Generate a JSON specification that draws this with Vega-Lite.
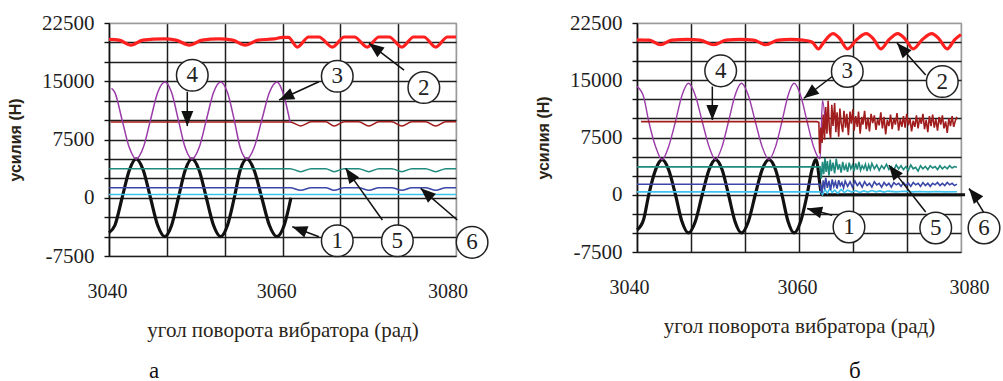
{
  "$schema": "https://vega.github.io/schema/vega-lite/v6.json",
  "background": "white",
  "padding": {"left": 6, "top": 11, "right": 0, "bottom": 0},
  "bounds": "flush",
  "spacing": 181,
  "datasets": {
    "la": [
      {"s":"c","x":3040,"y":420},{"s":"c","x":3081,"y":420},
      {"s":"6","x":3040,"y":1300},{"s":"6","x":3061.4,"y":1300},{"s":"6","x":3062.65,"y":950},{"s":"6","x":3063.9,"y":1300},{"s":"6","x":3065.6,"y":1300},{"s":"6","x":3066.6,"y":950},{"s":"6","x":3067.8,"y":1300},{"s":"6","x":3069.5,"y":1300},{"s":"6","x":3070.7,"y":950},{"s":"6","x":3071.9,"y":1300},{"s":"6","x":3073.4,"y":1300},{"s":"6","x":3074.6,"y":950},{"s":"6","x":3075.8,"y":1300},{"s":"6","x":3077.4,"y":1300},{"s":"6","x":3078.6,"y":950},{"s":"6","x":3079.8,"y":1300},{"s":"6","x":3081,"y":1300},
      {"s":"5","x":3040,"y":3750},{"s":"5","x":3061.4,"y":3750},{"s":"5","x":3062.65,"y":3350},{"s":"5","x":3063.9,"y":3750},{"s":"5","x":3065.6,"y":3750},{"s":"5","x":3066.6,"y":3350},{"s":"5","x":3067.8,"y":3750},{"s":"5","x":3069.5,"y":3750},{"s":"5","x":3070.7,"y":3350},{"s":"5","x":3071.9,"y":3750},{"s":"5","x":3073.4,"y":3750},{"s":"5","x":3074.6,"y":3350},{"s":"5","x":3075.8,"y":3750},{"s":"5","x":3077.4,"y":3750},{"s":"5","x":3078.6,"y":3350},{"s":"5","x":3079.8,"y":3750},{"s":"5","x":3081,"y":3750},
      {"s":"4","x":3040.2,"y":9750},{"s":"4","x":3061.4,"y":9750},{"s":"4","x":3062.65,"y":9250},{"s":"4","x":3063.9,"y":9780},{"s":"4","x":3065.6,"y":9780},{"s":"4","x":3066.6,"y":9250},{"s":"4","x":3067.8,"y":9780},{"s":"4","x":3069.5,"y":9780},{"s":"4","x":3070.7,"y":9250},{"s":"4","x":3071.9,"y":9780},{"s":"4","x":3073.4,"y":9780},{"s":"4","x":3074.6,"y":9250},{"s":"4","x":3075.8,"y":9780},{"s":"4","x":3077.4,"y":9780},{"s":"4","x":3078.6,"y":9250},{"s":"4","x":3079.8,"y":9780},{"s":"4","x":3081,"y":9780},
      {"s":"3","x":3040.3,"y":14100},{"s":"3","x":3040.7,"y":13540},{"s":"3","x":3041.55,"y":10000},{"s":"3","x":3042.4,"y":6460},{"s":"3","x":3043.2,"y":5000},{"s":"3","x":3044.05,"y":6460},{"s":"3","x":3044.9,"y":10000},{"s":"3","x":3045.75,"y":13540},{"s":"3","x":3046.6,"y":14900},{"s":"3","x":3047.4,"y":13540},{"s":"3","x":3048.2,"y":10000},{"s":"3","x":3049.0,"y":6460},{"s":"3","x":3049.8,"y":5000},{"s":"3","x":3050.65,"y":6460},{"s":"3","x":3051.5,"y":10000},{"s":"3","x":3052.35,"y":13540},{"s":"3","x":3053.2,"y":14900},{"s":"3","x":3054.0,"y":13540},{"s":"3","x":3054.8,"y":10000},{"s":"3","x":3055.5,"y":6460},{"s":"3","x":3056.3,"y":5000},{"s":"3","x":3057.15,"y":6460},{"s":"3","x":3058.05,"y":10000},{"s":"3","x":3058.95,"y":13540},{"s":"3","x":3059.85,"y":14900},{"s":"3","x":3060.7,"y":13000},{"s":"3","x":3061.4,"y":9700},
      {"s":"2","x":3040,"y":20400},{"s":"2","x":3041.2,"y":20300},{"s":"2","x":3042.6,"y":19650},{"s":"2","x":3044.0,"y":20300},{"s":"2","x":3046.5,"y":20450},{"s":"2","x":3047.9,"y":20300},{"s":"2","x":3049.5,"y":19650},{"s":"2","x":3051.0,"y":20300},{"s":"2","x":3053.0,"y":20450},{"s":"2","x":3054.6,"y":20300},{"s":"2","x":3056.1,"y":19650},{"s":"2","x":3057.6,"y":20300},{"s":"2","x":3059.5,"y":20450},{"s":"2","x":3060.5,"y":20650},{"s":"2","x":3061.2,"y":20650},{"s":"2","x":3062.25,"y":19400},{"s":"2","x":3063.6,"y":20700},{"s":"2","x":3064.8,"y":20700},{"s":"2","x":3066.4,"y":19400},{"s":"2","x":3067.8,"y":20700},{"s":"2","x":3069.0,"y":20700},{"s":"2","x":3070.5,"y":19400},{"s":"2","x":3071.9,"y":20700},{"s":"2","x":3073.1,"y":20700},{"s":"2","x":3074.6,"y":19400},{"s":"2","x":3076.0,"y":20700},{"s":"2","x":3077.2,"y":20700},{"s":"2","x":3078.6,"y":19400},{"s":"2","x":3080.0,"y":20700},{"s":"2","x":3081,"y":20700},
      {"s":"1","x":3040,"y":-4500},{"s":"1","x":3040.7,"y":-3540},{"s":"1","x":3041.55,"y":0},{"s":"1","x":3042.4,"y":3540},{"s":"1","x":3043.2,"y":5000},{"s":"1","x":3044.05,"y":3540},{"s":"1","x":3044.9,"y":0},{"s":"1","x":3045.75,"y":-3540},{"s":"1","x":3046.6,"y":-5000},{"s":"1","x":3047.4,"y":-3540},{"s":"1","x":3048.2,"y":0},{"s":"1","x":3049.0,"y":3540},{"s":"1","x":3049.8,"y":5000},{"s":"1","x":3050.65,"y":3540},{"s":"1","x":3051.5,"y":0},{"s":"1","x":3052.35,"y":-3540},{"s":"1","x":3053.2,"y":-5000},{"s":"1","x":3054.0,"y":-3540},{"s":"1","x":3054.8,"y":0},{"s":"1","x":3055.5,"y":3540},{"s":"1","x":3056.3,"y":5000},{"s":"1","x":3057.15,"y":3540},{"s":"1","x":3058.05,"y":0},{"s":"1","x":3058.95,"y":-3540},{"s":"1","x":3059.85,"y":-5000},{"s":"1","x":3060.7,"y":-3540},{"s":"1","x":3061.5,"y":0}
    ],
    "lb": [
      {"s":"c","x":3040,"y":380},{"s":"c","x":3062.7,"y":380},{"s":"c","x":3062.9,"y":0},{"s":"c","x":3063.2,"y":700},{"s":"c","x":3063.5,"y":200},{"s":"c","x":3063.8,"y":800},{"s":"c","x":3064.1,"y":300},{"s":"c","x":3064.4,"y":600},{"s":"c","x":3064.8,"y":200},{"s":"c","x":3065.2,"y":700},{"s":"c","x":3065.6,"y":300},{"s":"c","x":3066.0,"y":600},{"s":"c","x":3066.5,"y":350},{"s":"c","x":3067.0,"y":550},{"s":"c","x":3067.5,"y":300},{"s":"c","x":3068.0,"y":500},{"s":"c","x":3068.5,"y":350},{"s":"c","x":3069.0,"y":550},{"s":"c","x":3069.5,"y":380},{"s":"c","x":3070.0,"y":500},{"s":"c","x":3070.5,"y":350},{"s":"c","x":3071.0,"y":480},{"s":"c","x":3072.0,"y":380},{"s":"c","x":3073.0,"y":450},{"s":"c","x":3074.0,"y":380},{"s":"c","x":3075.0,"y":430},{"s":"c","x":3076.0,"y":380},{"s":"c","x":3077.0,"y":420},{"s":"c","x":3078.0,"y":380},{"s":"c","x":3079.5,"y":400},
      {"s":"6","x":3040,"y":1380},{"s":"6","x":3062.6,"y":1380},{"s":"6","x":3062.8,"y":200},{"s":"6","x":3063.0,"y":1900},{"s":"6","x":3063.15,"y":700},{"s":"6","x":3063.3,"y":2200},{"s":"6","x":3063.5,"y":900},{"s":"6","x":3063.7,"y":1800},{"s":"6","x":3063.9,"y":600},{"s":"6","x":3064.1,"y":2000},{"s":"6","x":3064.3,"y":1100},{"s":"6","x":3064.5,"y":1700},{"s":"6","x":3064.7,"y":800},{"s":"6","x":3064.9,"y":1900},{"s":"6","x":3065.1,"y":1200},{"s":"6","x":3065.3,"y":1600},{"s":"6","x":3065.5,"y":900},{"s":"6","x":3065.7,"y":1800},{"s":"6","x":3066.0,"y":1100},{"s":"6","x":3066.3,"y":1700},{"s":"6","x":3066.6,"y":1000},{"s":"6","x":3066.9,"y":1800},{"s":"6","x":3067.2,"y":1200},{"s":"6","x":3067.5,"y":1600},{"s":"6","x":3067.8,"y":1000},{"s":"6","x":3068.1,"y":1700},{"s":"6","x":3068.4,"y":1200},{"s":"6","x":3068.7,"y":1500},{"s":"6","x":3069.0,"y":1000},{"s":"6","x":3069.3,"y":1700},{"s":"6","x":3069.6,"y":1300},{"s":"6","x":3069.9,"y":1500},{"s":"6","x":3070.2,"y":1000},{"s":"6","x":3070.5,"y":1600},{"s":"6","x":3070.8,"y":1200},{"s":"6","x":3071.1,"y":1500},{"s":"6","x":3071.4,"y":1000},{"s":"6","x":3071.7,"y":1600},{"s":"6","x":3072.0,"y":1300},{"s":"6","x":3072.3,"y":1500},{"s":"6","x":3072.6,"y":1100},{"s":"6","x":3072.9,"y":1600},{"s":"6","x":3073.2,"y":1200},{"s":"6","x":3073.5,"y":1500},{"s":"6","x":3073.8,"y":1100},{"s":"6","x":3074.1,"y":1600},{"s":"6","x":3074.4,"y":1300},{"s":"6","x":3074.7,"y":1500},{"s":"6","x":3075.0,"y":1100},{"s":"6","x":3075.3,"y":1600},{"s":"6","x":3075.6,"y":1200},{"s":"6","x":3075.9,"y":1500},{"s":"6","x":3076.2,"y":1100},{"s":"6","x":3076.5,"y":1500},{"s":"6","x":3076.8,"y":1300},{"s":"6","x":3077.1,"y":1600},{"s":"6","x":3077.4,"y":1200},{"s":"6","x":3077.7,"y":1500},{"s":"6","x":3078.0,"y":1200},{"s":"6","x":3078.3,"y":1600},{"s":"6","x":3078.6,"y":1300},{"s":"6","x":3078.9,"y":1500},{"s":"6","x":3079.2,"y":1200},{"s":"6","x":3079.5,"y":1400},
      {"s":"5","x":3040,"y":3650},{"s":"5","x":3062.6,"y":3650},{"s":"5","x":3062.75,"y":2100},{"s":"5","x":3062.9,"y":4300},{"s":"5","x":3063.05,"y":2700},{"s":"5","x":3063.2,"y":4800},{"s":"5","x":3063.35,"y":3000},{"s":"5","x":3063.5,"y":4400},{"s":"5","x":3063.7,"y":2500},{"s":"5","x":3063.85,"y":4600},{"s":"5","x":3064.0,"y":3100},{"s":"5","x":3064.2,"y":4200},{"s":"5","x":3064.4,"y":2800},{"s":"5","x":3064.6,"y":4700},{"s":"5","x":3064.8,"y":3300},{"s":"5","x":3065.0,"y":4000},{"s":"5","x":3065.2,"y":2900},{"s":"5","x":3065.4,"y":4300},{"s":"5","x":3065.6,"y":3200},{"s":"5","x":3065.8,"y":3900},{"s":"5","x":3066.0,"y":3000},{"s":"5","x":3066.2,"y":4200},{"s":"5","x":3066.4,"y":3400},{"s":"5","x":3066.6,"y":3900},{"s":"5","x":3066.8,"y":3100},{"s":"5","x":3067.0,"y":4100},{"s":"5","x":3067.2,"y":3300},{"s":"5","x":3067.4,"y":4300},{"s":"5","x":3067.6,"y":3200},{"s":"5","x":3067.8,"y":3800},{"s":"5","x":3068.0,"y":3400},{"s":"5","x":3068.2,"y":4000},{"s":"5","x":3068.4,"y":3100},{"s":"5","x":3068.6,"y":3900},{"s":"5","x":3068.8,"y":3300},{"s":"5","x":3069.0,"y":4100},{"s":"5","x":3069.3,"y":3400},{"s":"5","x":3069.6,"y":3900},{"s":"5","x":3069.9,"y":3200},{"s":"5","x":3070.2,"y":3800},{"s":"5","x":3070.5,"y":3400},{"s":"5","x":3070.8,"y":4000},{"s":"5","x":3071.1,"y":3300},{"s":"5","x":3071.4,"y":3700},{"s":"5","x":3071.7,"y":3200},{"s":"5","x":3072.0,"y":3900},{"s":"5","x":3072.3,"y":3400},{"s":"5","x":3072.6,"y":3800},{"s":"5","x":3072.9,"y":3300},{"s":"5","x":3073.2,"y":3700},{"s":"5","x":3073.5,"y":3200},{"s":"5","x":3073.8,"y":3900},{"s":"5","x":3074.1,"y":3400},{"s":"5","x":3074.4,"y":3600},{"s":"5","x":3074.7,"y":3100},{"s":"5","x":3075.0,"y":3800},{"s":"5","x":3075.3,"y":3400},{"s":"5","x":3075.6,"y":3700},{"s":"5","x":3075.9,"y":3300},{"s":"5","x":3076.2,"y":3800},{"s":"5","x":3076.5,"y":3500},{"s":"5","x":3076.8,"y":3700},{"s":"5","x":3077.1,"y":3300},{"s":"5","x":3077.4,"y":3800},{"s":"5","x":3077.7,"y":3400},{"s":"5","x":3078.0,"y":3700},{"s":"5","x":3078.3,"y":3400},{"s":"5","x":3078.6,"y":3800},{"s":"5","x":3078.9,"y":3500},{"s":"5","x":3079.2,"y":3700},{"s":"5","x":3079.5,"y":3600},
      {"s":"4","x":3040.5,"y":9580},{"s":"4","x":3062.2,"y":9580},{"s":"4","x":3062.45,"y":9500},{"s":"4","x":3062.55,"y":5400},{"s":"4","x":3062.7,"y":8800},{"s":"4","x":3062.85,"y":6800},{"s":"4","x":3063.0,"y":10500},{"s":"4","x":3063.15,"y":7200},{"s":"4","x":3063.3,"y":11500},{"s":"4","x":3063.45,"y":8000},{"s":"4","x":3063.6,"y":12300},{"s":"4","x":3063.75,"y":8600},{"s":"4","x":3063.9,"y":7400},{"s":"4","x":3064.05,"y":11800},{"s":"4","x":3064.2,"y":9000},{"s":"4","x":3064.4,"y":12000},{"s":"4","x":3064.55,"y":8200},{"s":"4","x":3064.7,"y":10800},{"s":"4","x":3064.9,"y":7600},{"s":"4","x":3065.05,"y":11300},{"s":"4","x":3065.2,"y":9400},{"s":"4","x":3065.4,"y":8200},{"s":"4","x":3065.55,"y":11000},{"s":"4","x":3065.75,"y":8800},{"s":"4","x":3065.9,"y":10600},{"s":"4","x":3066.1,"y":7800},{"s":"4","x":3066.3,"y":10900},{"s":"4","x":3066.45,"y":9300},{"s":"4","x":3066.65,"y":11200},{"s":"4","x":3066.8,"y":8400},{"s":"4","x":3067.0,"y":10300},{"s":"4","x":3067.2,"y":8900},{"s":"4","x":3067.35,"y":10900},{"s":"4","x":3067.55,"y":8000},{"s":"4","x":3067.75,"y":10200},{"s":"4","x":3067.9,"y":9200},{"s":"4","x":3068.1,"y":11000},{"s":"4","x":3068.3,"y":8600},{"s":"4","x":3068.5,"y":10100},{"s":"4","x":3068.7,"y":8300},{"s":"4","x":3068.9,"y":10600},{"s":"4","x":3069.1,"y":9400},{"s":"4","x":3069.3,"y":10400},{"s":"4","x":3069.5,"y":8500},{"s":"4","x":3069.7,"y":9900},{"s":"4","x":3069.9,"y":9100},{"s":"4","x":3070.1,"y":10800},{"s":"4","x":3070.3,"y":8700},{"s":"4","x":3070.5,"y":10200},{"s":"4","x":3070.7,"y":7900},{"s":"4","x":3070.9,"y":9800},{"s":"4","x":3071.1,"y":9000},{"s":"4","x":3071.3,"y":10500},{"s":"4","x":3071.5,"y":8600},{"s":"4","x":3071.7,"y":10000},{"s":"4","x":3071.9,"y":9200},{"s":"4","x":3072.1,"y":10700},{"s":"4","x":3072.3,"y":8400},{"s":"4","x":3072.5,"y":9900},{"s":"4","x":3072.7,"y":8900},{"s":"4","x":3072.9,"y":10300},{"s":"4","x":3073.1,"y":8800},{"s":"4","x":3073.3,"y":10600},{"s":"4","x":3073.5,"y":9100},{"s":"4","x":3073.7,"y":10000},{"s":"4","x":3073.9,"y":8300},{"s":"4","x":3074.1,"y":9700},{"s":"4","x":3074.3,"y":8900},{"s":"4","x":3074.5,"y":10400},{"s":"4","x":3074.7,"y":8700},{"s":"4","x":3074.9,"y":10100},{"s":"4","x":3075.1,"y":9300},{"s":"4","x":3075.3,"y":10600},{"s":"4","x":3075.5,"y":8600},{"s":"4","x":3075.7,"y":9800},{"s":"4","x":3075.9,"y":8200},{"s":"4","x":3076.1,"y":10300},{"s":"4","x":3076.3,"y":9000},{"s":"4","x":3076.5,"y":10500},{"s":"4","x":3076.7,"y":8800},{"s":"4","x":3076.9,"y":9900},{"s":"4","x":3077.1,"y":8400},{"s":"4","x":3077.3,"y":10200},{"s":"4","x":3077.5,"y":9200},{"s":"4","x":3077.7,"y":10400},{"s":"4","x":3077.9,"y":8700},{"s":"4","x":3078.1,"y":9600},{"s":"4","x":3078.3,"y":8100},{"s":"4","x":3078.5,"y":10000},{"s":"4","x":3078.7,"y":9000},{"s":"4","x":3078.9,"y":10300},{"s":"4","x":3079.1,"y":8900},{"s":"4","x":3079.3,"y":9700},{"s":"4","x":3079.5,"y":10200},
      {"s":"3","x":3040,"y":14200},{"s":"3","x":3040.8,"y":12900},{"s":"3","x":3041.45,"y":9600},{"s":"3","x":3042.3,"y":6300},{"s":"3","x":3043.1,"y":4600},{"s":"3","x":3043.9,"y":6300},{"s":"3","x":3044.75,"y":9600},{"s":"3","x":3045.55,"y":13000},{"s":"3","x":3046.35,"y":14600},{"s":"3","x":3047.2,"y":13000},{"s":"3","x":3048.05,"y":9600},{"s":"3","x":3048.9,"y":6300},{"s":"3","x":3049.7,"y":4600},{"s":"3","x":3050.5,"y":6300},{"s":"3","x":3051.3,"y":9600},{"s":"3","x":3052.1,"y":13000},{"s":"3","x":3052.9,"y":14600},{"s":"3","x":3053.75,"y":13000},{"s":"3","x":3054.6,"y":9600},{"s":"3","x":3055.45,"y":6300},{"s":"3","x":3056.3,"y":4600},{"s":"3","x":3057.1,"y":6300},{"s":"3","x":3057.9,"y":9600},{"s":"3","x":3058.65,"y":13000},{"s":"3","x":3059.4,"y":14600},{"s":"3","x":3060.2,"y":13000},{"s":"3","x":3061.0,"y":9600},{"s":"3","x":3061.8,"y":6300},{"s":"3","x":3062.6,"y":4700},{"s":"3","x":3062.9,"y":12400},{"s":"3","x":3063.3,"y":8600},
      {"s":"2","x":3040,"y":20300},{"s":"2","x":3041.5,"y":20250},{"s":"2","x":3042.9,"y":19650},{"s":"2","x":3044.3,"y":20250},{"s":"2","x":3046.2,"y":20350},{"s":"2","x":3047.8,"y":20250},{"s":"2","x":3049.5,"y":19650},{"s":"2","x":3051.0,"y":20250},{"s":"2","x":3052.8,"y":20350},{"s":"2","x":3054.4,"y":20250},{"s":"2","x":3055.9,"y":19650},{"s":"2","x":3057.4,"y":20250},{"s":"2","x":3059.0,"y":20350},{"s":"2","x":3060.5,"y":20250},{"s":"2","x":3061.6,"y":20000},{"s":"2","x":3062.4,"y":19100},{"s":"2","x":3063.0,"y":19900},{"s":"2","x":3064.2,"y":21100},{"s":"2","x":3065.0,"y":20500},{"s":"2","x":3066.0,"y":19100},{"s":"2","x":3067.1,"y":20300},{"s":"2","x":3068.3,"y":21100},{"s":"2","x":3069.2,"y":20400},{"s":"2","x":3070.1,"y":19100},{"s":"2","x":3071.1,"y":20300},{"s":"2","x":3072.2,"y":21100},{"s":"2","x":3073.1,"y":20400},{"s":"2","x":3074.1,"y":19100},{"s":"2","x":3075.2,"y":20300},{"s":"2","x":3076.4,"y":21100},{"s":"2","x":3077.3,"y":20400},{"s":"2","x":3078.3,"y":19100},{"s":"2","x":3079.2,"y":20300},{"s":"2","x":3080.0,"y":21000},
      {"s":"1","x":3040,"y":-4600},{"s":"1","x":3040.8,"y":-3300},{"s":"1","x":3041.45,"y":0},{"s":"1","x":3042.3,"y":3300},{"s":"1","x":3043.1,"y":4600},{"s":"1","x":3043.9,"y":3300},{"s":"1","x":3044.75,"y":0},{"s":"1","x":3045.55,"y":-3500},{"s":"1","x":3046.35,"y":-5000},{"s":"1","x":3047.2,"y":-3500},{"s":"1","x":3048.05,"y":0},{"s":"1","x":3048.9,"y":3300},{"s":"1","x":3049.7,"y":4600},{"s":"1","x":3050.5,"y":3300},{"s":"1","x":3051.3,"y":0},{"s":"1","x":3052.1,"y":-3500},{"s":"1","x":3052.9,"y":-5000},{"s":"1","x":3053.75,"y":-3500},{"s":"1","x":3054.6,"y":0},{"s":"1","x":3055.45,"y":3300},{"s":"1","x":3056.3,"y":4600},{"s":"1","x":3057.1,"y":3300},{"s":"1","x":3057.9,"y":0},{"s":"1","x":3058.65,"y":-3500},{"s":"1","x":3059.4,"y":-5000},{"s":"1","x":3060.2,"y":-3500},{"s":"1","x":3061.0,"y":0},{"s":"1","x":3061.6,"y":3300},{"s":"1","x":3062.1,"y":4600},{"s":"1","x":3062.85,"y":0},{"s":"1","x":3080.5,"y":0}
    ],
    "aa": [
      {"n":"4","x":3049.84,"y":15770,"ax":3049.25,"ay":13650,"tx":3049.25,"ty":9230,"ang":180},
      {"n":"3","x":3066.97,"y":15640,"ax":3064.8,"ay":14940,"tx":3060.1,"ty":12580,"ang":245},
      {"n":"2","x":3077.2,"y":14190,"ax":3074.86,"ay":16440,"tx":3070.72,"ty":19880,"ang":307},
      {"n":"1","x":3066.97,"y":-5540,"ax":3064.8,"ay":-5020,"tx":3061.66,"ty":-3730,"ang":290},
      {"n":"5","x":3074.07,"y":-5540,"ax":3072.3,"ay":-2870,"tx":3067.96,"ty":3790,"ang":325},
      {"n":"6","x":3082.9,"y":-5740,"ax":3081.15,"ay":-2870,"tx":3076.82,"ty":1210,"ang":311}
    ],
    "ab": [
      {"n":"4","x":3050.33,"y":16230,"ax":3049.3,"ay":14180,"tx":3049.3,"ty":9790,"ang":180},
      {"n":"3","x":3065.96,"y":16150,"ax":3064.1,"ay":15490,"tx":3060.6,"ty":12640,"ang":232},
      {"n":"2","x":3077.69,"y":14830,"ax":3075.64,"ay":15700,"tx":3072.1,"ty":19870,"ang":318},
      {"n":"1","x":3066.17,"y":-4220,"ax":3064.1,"ay":-2690,"tx":3061.0,"ty":-1810,"ang":285},
      {"n":"5","x":3076.88,"y":-4350,"ax":3075.64,"ay":-2250,"tx":3071.1,"ty":3880,"ang":322},
      {"n":"6","x":3082.84,"y":-4350,"ax":3082.9,"ay":-2470,"tx":3081.0,"ty":820,"ang":321}
    ]
  },
  "hconcat": [
    {
      "width": 347,
      "height": 233,
      "title": {"text": "а", "orient": "bottom", "anchor": "start", "frame": "group", "dx": 40, "offset": 20, "font": "Liberation Serif", "fontSize": 23, "fontWeight": "normal", "color": "#111"},
      "layer": [
        {
          "data": {"name": "la"},
          "transform": [{"filter": "datum.s == '1' || datum.s == '2'"}],
          "mark": {"type": "line", "interpolate": "monotone", "strokeWidth": 3.2},
          "encoding": {
            "x": {"field": "x", "type": "quantitative", "scale": {"domain": [3040, 3081], "nice": false, "zero": false},
              "axis": {"values": [3040, 3046.833, 3053.667, 3060, 3060.5, 3067.333, 3074.167, 3080, 3081], "tickCount": 100, "labelExpr": "datum.value == 3040 || datum.value == 3060 || datum.value == 3080 ? toString(datum.value) : ''", "grid": true, "gridOpacity": {"condition": {"test": "datum.value == 3060 || datum.value == 3080", "value": 0}, "value": 1}, "gridColor": {"condition": {"test": "datum.value == 3081", "value": "#9a9a9a"}, "value": "#1e1e1e"}, "ticks": false, "domain": false, "labelPadding": 25, "labelFontSize": 20, "labelFlush": false, "labelOverlap": false, "labelOffset": {"condition": {"test": "datum.value == 3080", "value": 0}, "value": -2}, "title": "угол поворота вибратора (рад)", "titleFontSize": 21, "titlePadding": 18}},
            "y": {"field": "y", "type": "quantitative", "scale": {"domain": [-7500, 22500], "nice": false, "zero": false},
              "axis": {"values": [-7500, -5000, -2500, 0, 2500, 5000, 7500, 10000, 12500, 15000, 17500, 20000, 22500], "tickCount": 100, "labelExpr": "datum.value % 7500 == 0 ? toString(datum.value) : ''", "grid": true, "gridColor": {"condition": {"test": "datum.value == 22500", "value": "#9a9a9a"}, "value": "#1e1e1e"}, "tickSize": 5, "labelPadding": 10, "labelFontSize": 21, "labelOverlap": false, "title": "усилия (Н)", "titleFont": "Liberation Sans", "titleFontWeight": "bold", "titleFontSize": 16, "titlePadding": 18}},
            "color": {"field": "s", "type": "nominal", "legend": null, "scale": {"domain": ["c", "6", "5", "4", "3", "2", "1"], "range": ["#3cc4ef", "#3b47a8", "#1f8a7e", "#a11c1c", "#9a3aa8", "#ff2020", "#111111"]}}
          }
        },
        {
          "data": {"name": "la"},
          "transform": [{"filter": "datum.s != '1' && datum.s != '2'"}],
          "mark": {"type": "line", "interpolate": "monotone", "strokeWidth": 1.5},
          "encoding": {
            "x": {"field": "x", "type": "quantitative", "scale": {"domain": [3040, 3081], "nice": false, "zero": false}},
            "y": {"field": "y", "type": "quantitative", "scale": {"domain": [-7500, 22500], "nice": false, "zero": false}},
            "color": {"field": "s", "type": "nominal", "legend": null, "scale": {"domain": ["c", "6", "5", "4", "3", "2", "1"], "range": ["#3cc4ef", "#3b47a8", "#1f8a7e", "#a11c1c", "#9a3aa8", "#ff2020", "#111111"]}}
          }
        },
        {
          "data": {"name": "aa"},
          "mark": {"type": "rule", "color": "#111", "strokeWidth": 1.5},
          "encoding": {
            "x": {"field": "ax", "type": "quantitative", "scale": {"domain": [3040, 3081], "nice": false, "zero": false}},
            "y": {"field": "ay", "type": "quantitative", "scale": {"domain": [-7500, 22500], "nice": false, "zero": false}},
            "x2": {"field": "tx"},
            "y2": {"field": "ty"}
          }
        },
        {
          "data": {"name": "aa"},
          "mark": {"type": "point", "shape": "M0,0L-0.4,1L0.4,1Z", "filled": true, "color": "#111", "opacity": 1, "size": 900},
          "encoding": {
            "x": {"field": "tx", "type": "quantitative", "scale": {"domain": [3040, 3081], "nice": false, "zero": false}},
            "y": {"field": "ty", "type": "quantitative", "scale": {"domain": [-7500, 22500], "nice": false, "zero": false}},
            "angle": {"field": "ang", "type": "quantitative", "scale": null}
          }
        },
        {
          "data": {"name": "aa"},
          "mark": {"type": "point", "shape": "circle", "filled": false, "fill": "white", "fillOpacity": 1, "stroke": "#222", "strokeWidth": 1.5, "opacity": 1, "size": 1000},
          "encoding": {
            "x": {"field": "x", "type": "quantitative", "scale": {"domain": [3040, 3081], "nice": false, "zero": false}},
            "y": {"field": "y", "type": "quantitative", "scale": {"domain": [-7500, 22500], "nice": false, "zero": false}}
          }
        },
        {
          "data": {"name": "aa"},
          "mark": {"type": "text", "font": "Liberation Sans Narrow", "fontSize": 23, "color": "#222", "baseline": "middle", "align": "center"},
          "encoding": {
            "x": {"field": "x", "type": "quantitative", "scale": {"domain": [3040, 3081], "nice": false, "zero": false}},
            "y": {"field": "y", "type": "quantitative", "scale": {"domain": [-7500, 22500], "nice": false, "zero": false}},
            "text": {"field": "n"}
          }
        }
      ]
    },
    {
      "width": 324,
      "height": 229,
      "title": {"text": "б", "orient": "bottom", "anchor": "start", "frame": "group", "dx": 212, "offset": 24, "font": "Liberation Serif", "fontSize": 23, "fontWeight": "normal", "color": "#111"},
      "layer": [
        {
          "data": {"name": "lb"},
          "transform": [{"filter": "datum.s == '1' || datum.s == '2'"}],
          "mark": {"type": "line", "interpolate": "monotone", "strokeWidth": 3.2},
          "encoding": {
            "x": {"field": "x", "type": "quantitative", "scale": {"domain": [3040, 3080], "nice": false, "zero": false},
              "axis": {"values": [3040, 3046.667, 3053.333, 3060, 3066.667, 3073.333, 3080], "tickCount": 100, "labelExpr": "datum.value == 3040 || datum.value == 3060 || datum.value == 3080 ? toString(datum.value) : ''", "grid": true, "gridColor": {"condition": {"test": "datum.value == 3080", "value": "#9a9a9a"}, "value": "#1e1e1e"}, "ticks": false, "domain": false, "labelPadding": 25, "labelFontSize": 20, "labelFlush": false, "labelOverlap": false, "labelOffset": {"condition": [{"test": "datum.value == 3040", "value": -8}, {"test": "datum.value == 3080", "value": 8}], "value": -2}, "title": "угол поворота вибратора (рад)", "titleFontSize": 21, "titlePadding": 18}},
            "y": {"field": "y", "type": "quantitative", "scale": {"domain": [-7500, 22500], "nice": false, "zero": false},
              "axis": {"values": [-7500, -5000, -2500, 0, 2500, 5000, 7500, 10000, 12500, 15000, 17500, 20000, 22500], "tickCount": 100, "labelExpr": "datum.value % 7500 == 0 ? toString(datum.value) : ''", "grid": true, "gridColor": {"condition": {"test": "datum.value == 22500", "value": "#9a9a9a"}, "value": "#1e1e1e"}, "tickSize": 5, "labelPadding": 10, "labelFontSize": 21, "labelOverlap": false, "title": "усилия (Н)", "titleFont": "Liberation Sans", "titleFontWeight": "bold", "titleFontSize": 16, "titlePadding": 18}},
            "color": {"field": "s", "type": "nominal", "legend": null, "scale": {"domain": ["c", "6", "5", "4", "3", "2", "1"], "range": ["#3cc4ef", "#3b47a8", "#1f8a7e", "#8e1616", "#9a3aa8", "#ff2020", "#111111"]}}
          }
        },
        {
          "data": {"name": "lb"},
          "transform": [{"filter": "datum.s == '3'"}],
          "mark": {"type": "line", "interpolate": "monotone", "strokeWidth": 1.4},
          "encoding": {
            "x": {"field": "x", "type": "quantitative", "scale": {"domain": [3040, 3080], "nice": false, "zero": false}},
            "y": {"field": "y", "type": "quantitative", "scale": {"domain": [-7500, 22500], "nice": false, "zero": false}},
            "color": {"field": "s", "type": "nominal", "legend": null, "scale": {"domain": ["c", "6", "5", "4", "3", "2", "1"], "range": ["#3cc4ef", "#3b47a8", "#1f8a7e", "#8e1616", "#9a3aa8", "#ff2020", "#111111"]}}
          }
        },
        {
          "data": {"name": "lb"},
          "transform": [{"filter": "datum.s == 'c' || datum.s == '6' || datum.s == '5' || datum.s == '4'"}],
          "mark": {"type": "line", "interpolate": "linear", "strokeWidth": 1.6},
          "encoding": {
            "x": {"field": "x", "type": "quantitative", "scale": {"domain": [3040, 3080], "nice": false, "zero": false}},
            "y": {"field": "y", "type": "quantitative", "scale": {"domain": [-7500, 22500], "nice": false, "zero": false}},
            "color": {"field": "s", "type": "nominal", "legend": null, "scale": {"domain": ["c", "6", "5", "4", "3", "2", "1"], "range": ["#3cc4ef", "#3b47a8", "#1f8a7e", "#8e1616", "#9a3aa8", "#ff2020", "#111111"]}}
          }
        },
        {
          "data": {"name": "ab"},
          "mark": {"type": "rule", "color": "#111", "strokeWidth": 1.5},
          "encoding": {
            "x": {"field": "ax", "type": "quantitative", "scale": {"domain": [3040, 3080], "nice": false, "zero": false}},
            "y": {"field": "ay", "type": "quantitative", "scale": {"domain": [-7500, 22500], "nice": false, "zero": false}},
            "x2": {"field": "tx"},
            "y2": {"field": "ty"}
          }
        },
        {
          "data": {"name": "ab"},
          "mark": {"type": "point", "shape": "M0,0L-0.4,1L0.4,1Z", "filled": true, "color": "#111", "opacity": 1, "size": 900},
          "encoding": {
            "x": {"field": "tx", "type": "quantitative", "scale": {"domain": [3040, 3080], "nice": false, "zero": false}},
            "y": {"field": "ty", "type": "quantitative", "scale": {"domain": [-7500, 22500], "nice": false, "zero": false}},
            "angle": {"field": "ang", "type": "quantitative", "scale": null}
          }
        },
        {
          "data": {"name": "ab"},
          "mark": {"type": "point", "shape": "circle", "filled": false, "fill": "white", "fillOpacity": 1, "stroke": "#222", "strokeWidth": 1.5, "opacity": 1, "size": 1000},
          "encoding": {
            "x": {"field": "x", "type": "quantitative", "scale": {"domain": [3040, 3080], "nice": false, "zero": false}},
            "y": {"field": "y", "type": "quantitative", "scale": {"domain": [-7500, 22500], "nice": false, "zero": false}}
          }
        },
        {
          "data": {"name": "ab"},
          "mark": {"type": "text", "font": "Liberation Sans Narrow", "fontSize": 23, "color": "#222", "baseline": "middle", "align": "center"},
          "encoding": {
            "x": {"field": "x", "type": "quantitative", "scale": {"domain": [3040, 3080], "nice": false, "zero": false}},
            "y": {"field": "y", "type": "quantitative", "scale": {"domain": [-7500, 22500], "nice": false, "zero": false}},
            "text": {"field": "n"}
          }
        }
      ]
    }
  ],
  "config": {
    "view": {"stroke": "#9a9a9a", "strokeWidth": 1.2},
    "axis": {"labelFont": "Liberation Sans Narrow", "titleFont": "Liberation Sans Narrow", "labelColor": "#1e1e1e", "titleColor": "#2a2418", "titleFontWeight": "normal", "domainColor": "#111", "domainWidth": 1.4, "tickColor": "#111", "tickWidth": 1.4, "gridWidth": 1.5, "gridOpacity": 1}
  }
}
